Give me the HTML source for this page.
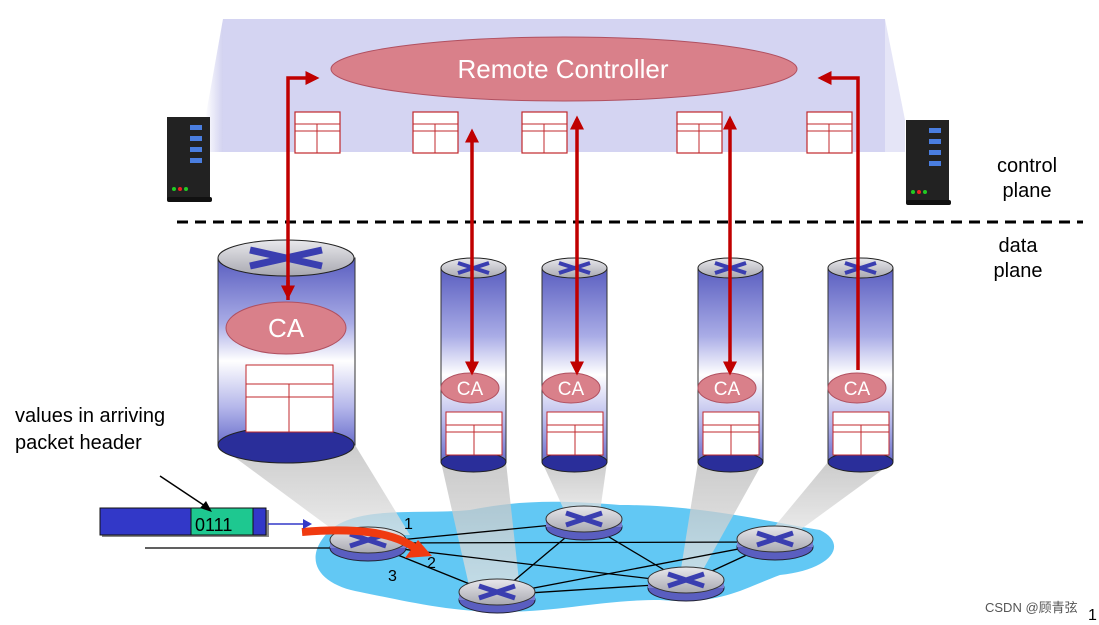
<!DOCTYPE html>
<html><head><meta charset="utf-8"><style>body{margin:0;background:#fff}svg{display:block}</style></head><body>
<svg width="1099" height="625" viewBox="0 0 1099 625" font-family="Liberation Sans, Noto Sans CJK SC, sans-serif">
<defs>
<linearGradient id="cyl" x1="0" y1="0" x2="0" y2="1">
<stop offset="0" stop-color="#5a5ec0"/><stop offset="0.35" stop-color="#a9ace6"/><stop offset="0.55" stop-color="#ffffff"/><stop offset="0.8" stop-color="#b4b6ea"/><stop offset="1" stop-color="#6a6ecc"/></linearGradient>
<linearGradient id="top" x1="0" y1="0" x2="0" y2="1"><stop offset="0" stop-color="#e8e8ec"/><stop offset="1" stop-color="#a8a8b0"/></linearGradient>
<linearGradient id="side" x1="1" y1="0" x2="0" y2="0"><stop offset="0" stop-color="#d2d2f0"/><stop offset="1" stop-color="#fff"/></linearGradient>
<linearGradient id="beam" x1="0" y1="0" x2="0" y2="1"><stop offset="0" stop-color="#bbb"/><stop offset="1" stop-color="#e4e4e4"/></linearGradient>
<marker id="ah" markerWidth="4" markerHeight="4" refX="3" refY="2" orient="auto" markerUnits="strokeWidth"><path d="M0,0L4,2L0,4z" fill="#c00000"/></marker>
<g id="tbl"><rect x="0" y="0" width="45" height="41" fill="#fff" stroke="#c0282c" stroke-width="1.2"/><line x1="0" y1="12" x2="45" y2="12" stroke="#c0282c"/><line x1="0" y1="19" x2="45" y2="19" stroke="#c0282c"/><line x1="22" y1="12" x2="22" y2="41" stroke="#c0282c"/></g>
<g id="rt"><ellipse cx="0" cy="8" rx="38" ry="13" fill="#5a5ec0" stroke="#223"/><rect x="-38" y="0" width="76" height="8" fill="#7a7ed0"/><ellipse cx="0" cy="0" rx="38" ry="13" fill="url(#top)" stroke="#333"/><path d="M-18,-6L18,6M-18,6L18,-6" stroke="#3a3eb0" stroke-width="5"/></g>
</defs>
<polygon points="223,19 885,19 885,152 223,152" fill="#d4d4f2"/>
<polygon points="223,19 205,120 205,152 223,152" fill="url(#side)"/>
<polygon points="885,19 905,120 905,152 885,152" fill="#d4d4f2" opacity="0.6"/>
<ellipse cx="564" cy="69" rx="233" ry="32" fill="#d9808a" stroke="#b05060"/>
<text x="563" y="78" font-size="26" fill="#fff" text-anchor="middle">Remote Controller</text>
<use href="#tbl" x="295" y="112"/><use href="#tbl" x="413" y="112"/><use href="#tbl" x="522" y="112"/><use href="#tbl" x="677" y="112"/><use href="#tbl" x="807" y="112"/>
<g><rect x="167" y="117" width="43" height="82" fill="#222"/><rect x="167" y="197" width="45" height="5" rx="2" fill="#111"/><rect x="190" y="125" width="12" height="5" fill="#4a7ee0"/><rect x="190" y="136" width="12" height="5" fill="#4a7ee0"/><rect x="190" y="147" width="12" height="5" fill="#4a7ee0"/><rect x="190" y="158" width="12" height="5" fill="#4a7ee0"/><circle cx="174" cy="189" r="2" fill="#2c2"/><circle cx="180" cy="189" r="2" fill="#e22"/><circle cx="186" cy="189" r="2" fill="#2c2"/></g>
<g transform="translate(739,0)"><rect x="167" y="120" width="43" height="82" fill="#222"/><rect x="167" y="200" width="45" height="5" rx="2" fill="#111"/><rect x="190" y="128" width="12" height="5" fill="#4a7ee0"/><rect x="190" y="139" width="12" height="5" fill="#4a7ee0"/><rect x="190" y="150" width="12" height="5" fill="#4a7ee0"/><rect x="190" y="161" width="12" height="5" fill="#4a7ee0"/><circle cx="174" cy="192" r="2" fill="#2c2"/><circle cx="180" cy="192" r="2" fill="#e22"/><circle cx="186" cy="192" r="2" fill="#2c2"/></g>
<text x="1027" y="172" font-size="20" text-anchor="middle">control</text><text x="1027" y="197" font-size="20" text-anchor="middle">plane</text>
<text x="1018" y="252" font-size="20" text-anchor="middle">data</text><text x="1018" y="277" font-size="20" text-anchor="middle">plane</text>
<line x1="177" y1="222" x2="1083" y2="222" stroke="#000" stroke-width="3" stroke-dasharray="11,7"/>
<path d="M330,530 C360,505 420,515 470,510 C520,500 560,500 620,505 C700,505 760,520 820,530 C850,545 830,570 780,575 C740,590 720,605 660,600 C600,600 560,612 500,612 C450,612 400,600 360,592 C320,585 300,560 330,530Z" fill="#62c8f4"/>
<g fill="url(#beam)" opacity="0.75"><polygon points="218,445 355,445 410,535 340,535"/><polygon points="441,462 506,462 520,590 470,590"/><polygon points="542,462 607,462 600,512 565,512"/><polygon points="698,462 763,462 700,575 680,575"/><polygon points="828,462 893,462 800,530 770,532"/></g>
<g stroke="#000" stroke-width="1.3"><line x1="368" y1="543" x2="584" y2="522"/><line x1="368" y1="543" x2="775" y2="542"/><line x1="368" y1="543" x2="497" y2="595"/><line x1="584" y1="522" x2="686" y2="583"/><line x1="584" y1="522" x2="497" y2="595"/><line x1="497" y1="595" x2="775" y2="542"/><line x1="497" y1="595" x2="686" y2="583"/><line x1="686" y1="583" x2="775" y2="542"/><line x1="368" y1="545" x2="686" y2="583"/><line x1="145" y1="548" x2="330" y2="548"/></g>
<use href="#rt" x="368" y="540"/><use href="#rt" x="584" y="519"/><use href="#rt" x="775" y="539"/><use href="#rt" x="686" y="580"/><use href="#rt" x="497" y="592"/>
<path d="M302,532 C350,528 395,530 420,552" stroke="#f03a10" stroke-width="8" fill="none"/><polygon points="405,558 432,556 418,540" fill="#f03a10"/>
<text x="404" y="529" font-size="16">1</text><text x="427" y="568" font-size="16">2</text><text x="388" y="581" font-size="16">3</text>
<rect x="102" y="510" width="167" height="27" fill="#888"/><rect x="100" y="508" width="166" height="27" fill="#3238c8" stroke="#111"/><rect x="191" y="508" width="62" height="27" fill="#1ec890" stroke="#111"/>
<text x="195" y="531" font-size="18">0111</text>
<line x1="268" y1="524" x2="305" y2="524" stroke="#3238c8" stroke-width="1.5"/><polygon points="303,519 312,524 303,529" fill="#3238c8"/>
<line x1="160" y1="476" x2="208" y2="508" stroke="#000" stroke-width="1.5"/><polygon points="212,512 200,508 206,501"/>
<text x="15" y="422" font-size="20">values in arriving</text><text x="15" y="449" font-size="20">packet header</text>
<g>
<rect x="218" y="258" width="137" height="187" fill="url(#cyl)" stroke="#333"/>
<ellipse cx="286" cy="445" rx="68" ry="18" fill="#2a2e9a" stroke="#222"/>
<ellipse cx="286" cy="258" rx="68" ry="18" fill="url(#top)" stroke="#222"/>
<path d="M250,250L322,266M250,266L322,250" stroke="#3a3eb0" stroke-width="7"/>
<ellipse cx="286" cy="328" rx="60" ry="26" fill="#d9808a" stroke="#b05060"/><text x="286" y="337" font-size="26" fill="#fff" text-anchor="middle">CA</text>
<rect x="246" y="365" width="87" height="67" fill="#fff" stroke="#c0282c"/><line x1="246" y1="384" x2="333" y2="384" stroke="#c0282c"/><line x1="246" y1="397" x2="333" y2="397" stroke="#c0282c"/><line x1="289" y1="384" x2="289" y2="432" stroke="#c0282c"/>
</g>
<g id="sc">
<rect x="441" y="268" width="65" height="194" fill="url(#cyl)" stroke="#333"/>
<ellipse cx="473.5" cy="462" rx="32.5" ry="10" fill="#2a2e9a" stroke="#222"/>
<ellipse cx="473.5" cy="268" rx="32.5" ry="10" fill="url(#top)" stroke="#222"/>
<path d="M458,263L489,273M458,273L489,263" stroke="#3a3eb0" stroke-width="4"/>
<ellipse cx="470" cy="388" rx="29" ry="15" fill="#d9808a" stroke="#b05060"/><text x="470" y="395" font-size="19" fill="#fff" text-anchor="middle">CA</text>
<rect x="446" y="412" width="56" height="43" fill="#fff" stroke="#c0282c"/><line x1="446" y1="425" x2="502" y2="425" stroke="#c0282c"/><line x1="446" y1="432" x2="502" y2="432" stroke="#c0282c"/><line x1="474" y1="425" x2="474" y2="455" stroke="#c0282c"/>
</g>
<use href="#sc" x="101"/><use href="#sc" x="257"/><use href="#sc" x="387"/>
<g stroke="#c00000" stroke-width="3.5" fill="none">
<path d="M288,300 L288,78 L316,78" marker-end="url(#ah)"/>
<line x1="288" y1="280" x2="288" y2="296" marker-end="url(#ah)"/>
<path d="M858,370 L858,78 L821,78" marker-end="url(#ah)"/>
<line x1="472" y1="360" x2="472" y2="372" marker-end="url(#ah)"/><line x1="472" y1="370" x2="472" y2="132" marker-end="url(#ah)"/>
<line x1="577" y1="360" x2="577" y2="372" marker-end="url(#ah)"/><line x1="577" y1="370" x2="577" y2="119" marker-end="url(#ah)"/>
<line x1="730" y1="360" x2="730" y2="372" marker-end="url(#ah)"/><line x1="730" y1="370" x2="730" y2="119" marker-end="url(#ah)"/>
</g>
<text x="985" y="612" font-size="13" fill="#555">CSDN @顾青弦</text><text x="1088" y="620" font-size="16">1</text>
</svg>
</body></html>
